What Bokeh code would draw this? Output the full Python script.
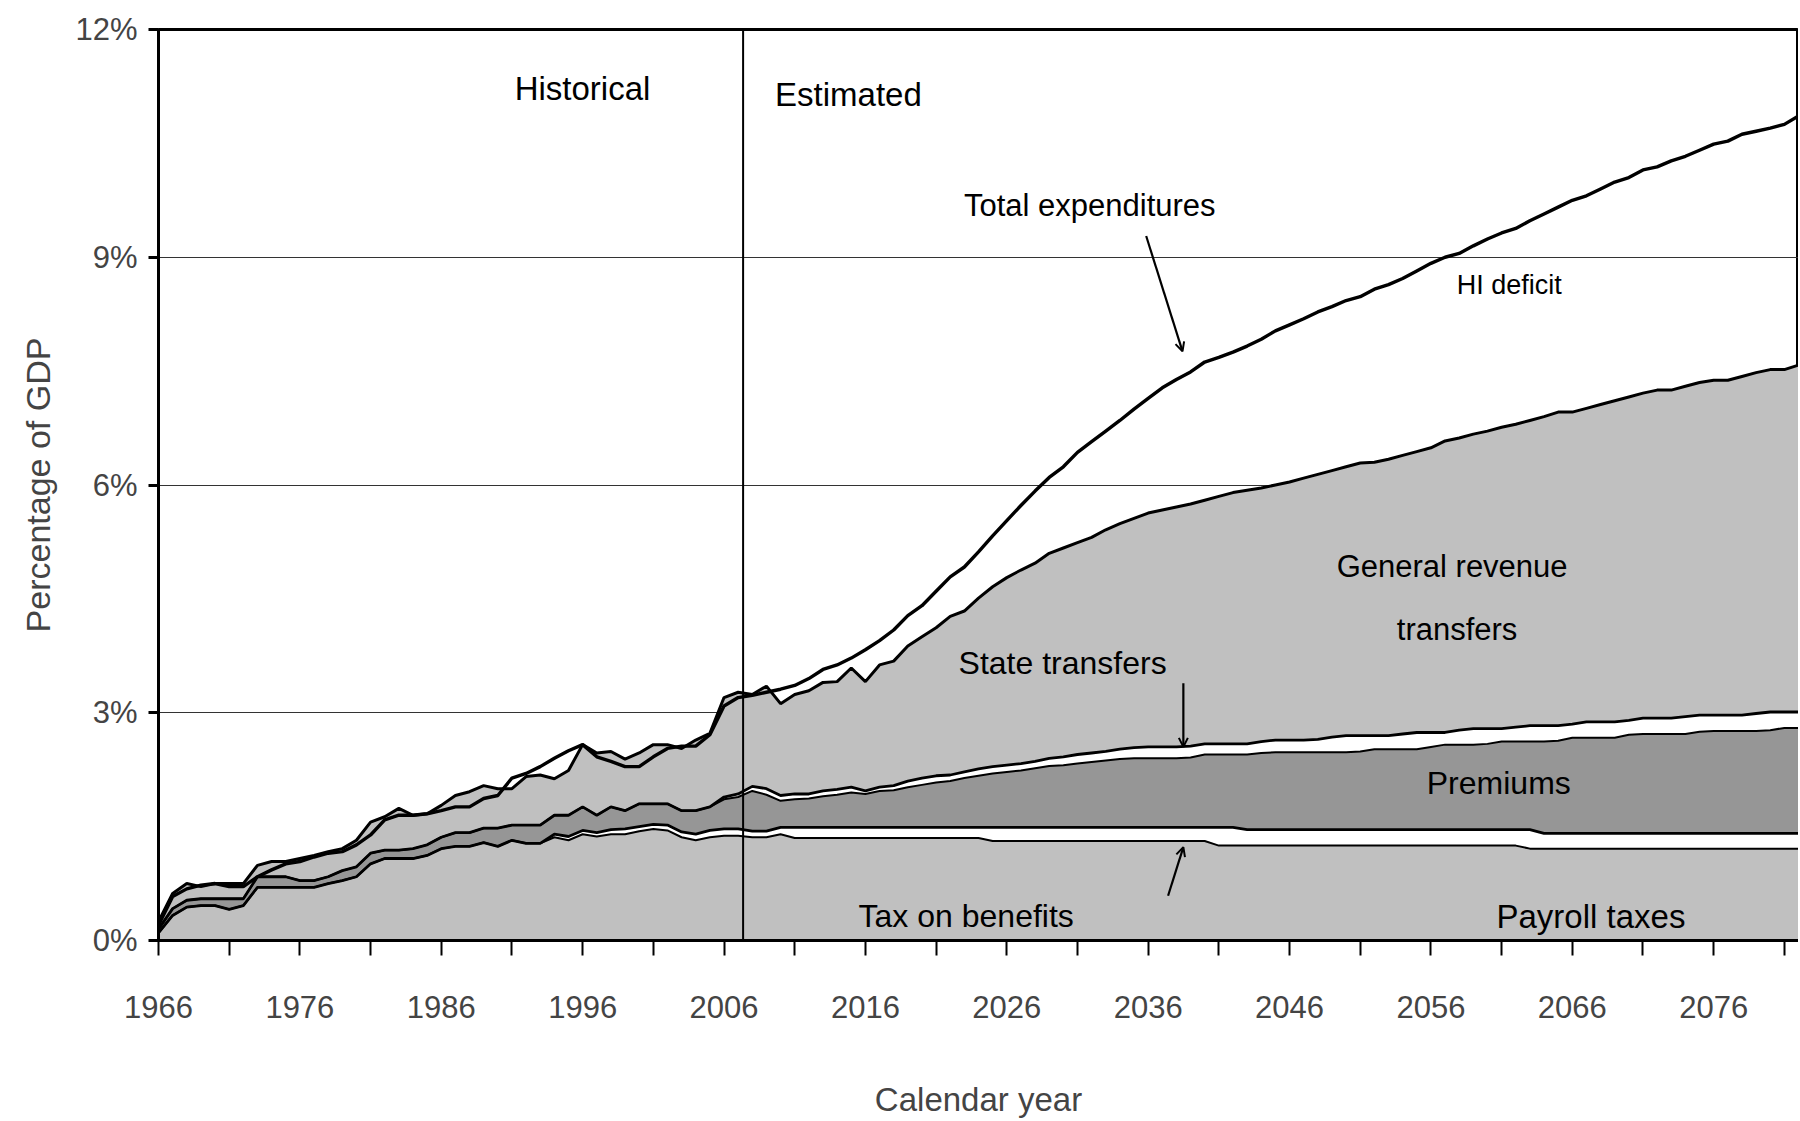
from bokeh.plotting import figure
from bokeh.models import (Range1d, FixedTicker, PrintfTickFormatter, Span, Label,
                          Arrow, OpenHead, ColumnDataSource)
from bokeh.embed import file_html
from bokeh.resources import INLINE

# ---------------- data (percent of GDP) ----------------
years = list(range(1966, 2083))

# upper edge of "Payroll taxes"
top_payroll = [
    0.10, 0.33, 0.44, 0.46, 0.46, 0.41, 0.46, 0.70, 0.70, 0.70,   # 1966-75
    0.70, 0.70, 0.75, 0.79, 0.84, 1.01, 1.08, 1.08, 1.08, 1.12,   # 1976-85
    1.21, 1.24, 1.24, 1.29, 1.24, 1.32, 1.28, 1.28, 1.36, 1.32,   # 1986-95
    1.40, 1.37, 1.40, 1.40, 1.44, 1.47, 1.45, 1.36, 1.32, 1.36,   # 1996-05
    1.38, 1.38, 1.36, 1.36, 1.40, 1.35, 1.35, 1.35, 1.35, 1.35,   # 2006-15
    1.35, 1.35, 1.35, 1.35, 1.35, 1.35, 1.35, 1.35, 1.35, 1.31,   # 2016-25
    1.31, 1.31, 1.31, 1.31, 1.31, 1.31, 1.31, 1.31, 1.31, 1.31,   # 2026-35
    1.31, 1.31, 1.31, 1.31, 1.31, 1.25, 1.25, 1.25, 1.25, 1.25,   # 2036-45
    1.25, 1.25, 1.25, 1.25, 1.25, 1.25, 1.25, 1.25, 1.25, 1.25,   # 2046-55
    1.25, 1.25, 1.25, 1.25, 1.25, 1.25, 1.25, 1.21, 1.21, 1.21,   # 2056-65
    1.21, 1.21, 1.21, 1.21, 1.21, 1.21, 1.21, 1.21, 1.21, 1.21,   # 2066-75
    1.21, 1.21, 1.21, 1.21, 1.21, 1.21, 1.21,                     # 2076-82
]

# upper edge of "Tax on benefits"
top_tax_on_benefits = [
    0.10, 0.33, 0.44, 0.46, 0.46, 0.41, 0.46, 0.70, 0.70, 0.70,
    0.70, 0.70, 0.75, 0.79, 0.84, 1.01, 1.08, 1.08, 1.08, 1.12,
    1.21, 1.24, 1.24, 1.29, 1.24, 1.32, 1.28, 1.28, 1.40, 1.37,
    1.45, 1.42, 1.46, 1.47, 1.50, 1.53, 1.52, 1.43, 1.40, 1.45,
    1.47, 1.47, 1.44, 1.44, 1.49, 1.49, 1.49, 1.49, 1.49, 1.49,
    1.49, 1.49, 1.49, 1.49, 1.49, 1.49, 1.49, 1.49, 1.49, 1.49,
    1.49, 1.49, 1.49, 1.49, 1.49, 1.49, 1.49, 1.49, 1.49, 1.49,
    1.49, 1.49, 1.49, 1.49, 1.49, 1.49, 1.49, 1.46, 1.46, 1.46,
    1.46, 1.46, 1.46, 1.46, 1.46, 1.46, 1.46, 1.46, 1.46, 1.46,
    1.46, 1.46, 1.46, 1.46, 1.46, 1.46, 1.46, 1.46, 1.41, 1.41,
    1.41, 1.41, 1.41, 1.41, 1.41, 1.41, 1.41, 1.41, 1.41, 1.41,
    1.41, 1.41, 1.41, 1.41, 1.41, 1.41, 1.41,
]

# upper edge of "Premiums"
top_premiums = [
    0.15, 0.42, 0.53, 0.55, 0.55, 0.55, 0.55, 0.84, 0.84, 0.84,
    0.79, 0.79, 0.84, 0.92, 0.97, 1.15, 1.19, 1.19, 1.21, 1.26,
    1.36, 1.42, 1.42, 1.48, 1.48, 1.52, 1.52, 1.52, 1.65, 1.65,
    1.76, 1.65, 1.76, 1.71, 1.80, 1.80, 1.80, 1.71, 1.71, 1.76,
    1.86, 1.89, 1.97, 1.92, 1.84, 1.86, 1.87, 1.90, 1.92, 1.95,
    1.93, 1.97, 1.98, 2.02, 2.05, 2.08, 2.10, 2.14, 2.17, 2.20,
    2.22, 2.24, 2.27, 2.30, 2.31, 2.33, 2.35, 2.37, 2.39, 2.40,
    2.40, 2.40, 2.40, 2.41, 2.45, 2.45, 2.45, 2.45, 2.47, 2.48,
    2.48, 2.48, 2.48, 2.48, 2.48, 2.49, 2.52, 2.52, 2.52, 2.52,
    2.55, 2.58, 2.58, 2.58, 2.59, 2.62, 2.62, 2.62, 2.62, 2.63,
    2.67, 2.67, 2.67, 2.67, 2.71, 2.72, 2.72, 2.72, 2.72, 2.75,
    2.76, 2.76, 2.76, 2.76, 2.77, 2.80, 2.80,
]

# upper edge of "State transfers"
top_state_transfers = [
    0.15, 0.42, 0.53, 0.55, 0.55, 0.55, 0.55, 0.84, 0.84, 0.84,
    0.79, 0.79, 0.84, 0.92, 0.97, 1.15, 1.19, 1.19, 1.21, 1.26,
    1.36, 1.42, 1.42, 1.48, 1.48, 1.52, 1.52, 1.52, 1.65, 1.65,
    1.76, 1.65, 1.76, 1.71, 1.80, 1.80, 1.80, 1.71, 1.71, 1.76,
    1.89, 1.93, 2.03, 2.00, 1.91, 1.93, 1.93, 1.97, 1.99, 2.02,
    1.97, 2.02, 2.04, 2.10, 2.14, 2.17, 2.18, 2.22, 2.26, 2.29,
    2.31, 2.33, 2.36, 2.40, 2.42, 2.45, 2.47, 2.49, 2.52, 2.54,
    2.55, 2.55, 2.55, 2.56, 2.59, 2.59, 2.59, 2.59, 2.62, 2.64,
    2.64, 2.64, 2.65, 2.68, 2.70, 2.70, 2.70, 2.70, 2.72, 2.74,
    2.74, 2.74, 2.77, 2.79, 2.79, 2.79, 2.81, 2.83, 2.83, 2.83,
    2.85, 2.88, 2.88, 2.88, 2.90, 2.93, 2.93, 2.93, 2.95, 2.97,
    2.97, 2.97, 2.97, 2.99, 3.01, 3.01, 3.01,
]

# upper edge of "General revenue transfers" = total non-interest income
total_income = [
    0.25, 0.62, 0.75, 0.71, 0.75, 0.75, 0.75, 0.99, 1.04, 1.04,
    1.08, 1.12, 1.17, 1.21, 1.32, 1.56, 1.63, 1.74, 1.65, 1.67,
    1.78, 1.91, 1.96, 2.04, 2.00, 2.00, 2.16, 2.18, 2.13, 2.24,
    2.58, 2.47, 2.49, 2.39, 2.47, 2.58, 2.58, 2.53, 2.64, 2.73,
    3.20, 3.27, 3.24, 3.35, 3.12, 3.24, 3.29, 3.40, 3.41, 3.59,
    3.41, 3.63, 3.68, 3.88, 4.00, 4.12, 4.27, 4.34, 4.51, 4.66,
    4.78, 4.88, 4.97, 5.10, 5.17, 5.24, 5.31, 5.41, 5.49, 5.56,
    5.63, 5.67, 5.71, 5.75, 5.80, 5.85, 5.90, 5.93, 5.96, 6.00,
    6.04, 6.09, 6.14, 6.19, 6.24, 6.29, 6.30, 6.34, 6.39, 6.44,
    6.49, 6.58, 6.62, 6.67, 6.71, 6.76, 6.80, 6.85, 6.90, 6.96,
    6.96, 7.01, 7.06, 7.11, 7.16, 7.21, 7.25, 7.25, 7.30, 7.35,
    7.38, 7.38, 7.43, 7.48, 7.52, 7.52, 7.58,
]

total_expenditures = [
    0.20, 0.58, 0.68, 0.73, 0.75, 0.71, 0.71, 0.84, 0.93, 1.01,
    1.04, 1.10, 1.15, 1.17, 1.26, 1.39, 1.59, 1.65, 1.65, 1.67,
    1.71, 1.76, 1.76, 1.87, 1.91, 2.14, 2.20, 2.29, 2.40, 2.50,
    2.58, 2.42, 2.36, 2.29, 2.29, 2.42, 2.53, 2.56, 2.56, 2.71,
    3.09, 3.20, 3.23, 3.27, 3.31, 3.36, 3.45, 3.57, 3.63, 3.72,
    3.83, 3.95, 4.09, 4.28, 4.41, 4.60, 4.79, 4.92, 5.12, 5.33,
    5.53, 5.73, 5.92, 6.10, 6.24, 6.43, 6.57, 6.71, 6.85, 7.00,
    7.14, 7.28, 7.39, 7.49, 7.62, 7.68, 7.75, 7.83, 7.92, 8.03,
    8.11, 8.19, 8.28, 8.35, 8.43, 8.48, 8.58, 8.64, 8.72, 8.82,
    8.92, 9.00, 9.05, 9.15, 9.24, 9.32, 9.38, 9.48, 9.57, 9.66,
    9.75, 9.81, 9.90, 9.99, 10.05, 10.15, 10.19, 10.27, 10.33, 10.41,
    10.49, 10.53, 10.62, 10.66, 10.70, 10.75, 10.86,
]

y_ticks = [0, 3, 6, 9, 12]
x_label_years = [1966, 1976, 1986, 1996, 2006, 2016, 2026, 2036, 2046, 2056, 2066, 2076]
x_minor_years = [1971, 1981, 1991, 2001, 2011, 2021, 2031, 2041, 2051, 2061, 2071, 2081]
historical_end = 2007.35

# ---------------- styling ----------------
FONT = "Liberation Sans"
LIGHT = "#C0C0C0"
DARK = "#969696"

src = ColumnDataSource(dict(
    year=years,
    zero=[0.0] * len(years),
    p=top_payroll, t=top_tax_on_benefits, pr=top_premiums,
    s=top_state_transfers, i=total_income, e=total_expenditures,
))

p = figure(width=1798, height=1121, output_backend="svg", toolbar_location=None,
           x_range=Range1d(1966, 2082), y_range=Range1d(0, 12),
           min_border_left=158, min_border_right=0, min_border_top=29,
           min_border_bottom=181)
p.background_fill_color = "white"
p.border_fill_color = "white"
p.outline_line_color = "black"
p.outline_line_width = 3

# stacked bands
p.varea(x="year", y1="zero", y2="p", source=src, fill_color=LIGHT)
p.varea(x="year", y1="p", y2="t", source=src, fill_color="white")
p.varea(x="year", y1="t", y2="pr", source=src, fill_color=DARK)
p.varea(x="year", y1="pr", y2="s", source=src, fill_color="white")
p.varea(x="year", y1="s", y2="i", source=src, fill_color=LIGHT)

# outlines
p.line(x="year", y="p", source=src, line_color="black", line_width=2)
p.line(x="year", y="t", source=src, line_color="black", line_width=2.8)
p.line(x="year", y="pr", source=src, line_color="black", line_width=2)
p.line(x="year", y="s", source=src, line_color="black", line_width=2.8)
p.line(x="year", y="i", source=src, line_color="black", line_width=3)
p.line(x="year", y="e", source=src, line_color="black", line_width=3.4)

p.add_layout(Span(location=historical_end, dimension="height",
                  line_color="black", line_width=2))

# axes
p.xgrid.visible = False
p.ygrid.ticker = FixedTicker(ticks=[3, 6, 9])
p.ygrid.grid_line_color = "#333333"
p.ygrid.grid_line_width = 1

xa = p.xaxis[0]
xa.ticker = FixedTicker(ticks=x_label_years, minor_ticks=x_minor_years)
xa.axis_line_width = 3
xa.major_tick_out = 15
xa.major_tick_in = 0
xa.minor_tick_out = 15
xa.minor_tick_in = 0
xa.major_tick_line_width = 2
xa.minor_tick_line_width = 2
xa.major_label_text_font = FONT
xa.major_label_text_font_size = "31px"
xa.major_label_standoff = 40
xa.axis_label = "Calendar year"
xa.axis_label_text_font = FONT
xa.axis_label_text_font_size = "33px"
xa.axis_label_text_font_style = "normal"
xa.axis_label_standoff = 60

ya = p.yaxis[0]
ya.ticker = FixedTicker(ticks=y_ticks)
ya.formatter = PrintfTickFormatter(format="%d%%")
ya.axis_line_width = 3
ya.major_tick_out = 10
ya.major_tick_in = 0
ya.minor_tick_out = 0
ya.minor_tick_in = 0
ya.major_tick_line_width = 3
ya.major_label_text_font = FONT
ya.major_label_text_font_size = "31px"
ya.major_label_standoff = 11
ya.axis_label = "Percentage of GDP"
ya.axis_label_text_font = FONT
ya.axis_label_text_font_size = "34px"
ya.axis_label_text_font_style = "normal"
ya.axis_label_standoff = 15

# annotations (text centred on the middle of the capitals)
labels = [
    ("Historical", 1995.99, 11.22, "33px"),
    ("Estimated", 2014.80, 11.15, "33px"),
    ("Total expenditures", 2031.87, 9.68, "31px"),
    ("HI deficit", 2061.54, 8.64, "27px"),
    ("General revenue", 2057.5, 4.92, "31px"),
    ("transfers", 2057.85, 4.10, "31px"),
    ("State transfers", 2029.95, 3.66, "32px"),
    ("Premiums", 2060.8, 2.07, "32px"),
    ("Tax on benefits", 2023.13, 0.32, "32px"),
    ("Payroll taxes", 2067.32, 0.32, "33px"),
]
for txt, lx, ly, fs in labels:
    p.add_layout(Label(x=lx, y=ly, text=txt, text_align="center",
                       text_baseline="middle", text_font=FONT,
                       text_font_size=fs, text_color="black"))

arrows = [
    (2035.86, 9.28, 2038.43, 7.76),
    (2038.49, 3.39, 2038.49, 2.55),
    (2037.41, 0.59, 2038.49, 1.23),
]
for x0, y0, x1, y1 in arrows:
    p.add_layout(Arrow(end=OpenHead(size=9, line_width=2, line_color="black"),
                       x_start=x0, y_start=y0, x_end=x1, y_end=y1,
                       line_color="black", line_width=2.2))

open("out.html", "w").write(file_html(p, INLINE))
